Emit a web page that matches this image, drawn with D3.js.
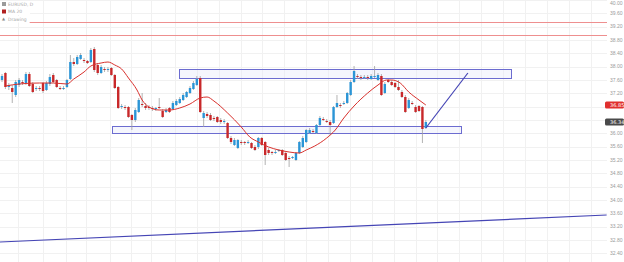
<!DOCTYPE html>
<html>
<head>
<meta charset="utf-8">
<script src="https://cdn.jsdelivr.net/npm/d3@7"></script>
<style>
body { margin: 0; background: #fff; }
svg { display: block; font-family: "DejaVu Sans", sans-serif; }
</style>
</head>
<body>
<svg id="chart" width="624" height="262"></svg>
<script>
// daily candles, oldest first
const opens = [37.60,37.81,37.39,37.36,37.15,37.45,37.54,37.51,37.78,37.48,37.33,37.36,37.51,37.30,37.48,37.75,37.60,37.36,37.33,37.39,
  37.63,38.14,38.08,38.23,38.20,38.17,38.14,38.53,38.05,37.81,37.93,37.90,37.96,37.75,37.39,36.79,36.79,36.79,36.55,36.40,
  36.64,36.88,36.82,36.79,36.76,36.73,36.79,36.67,36.64,36.76,36.73,36.85,36.91,37.00,37.09,37.21,37.33,37.45,37.66,36.46,
  36.58,36.55,36.46,36.49,36.40,36.34,36.31,35.86,35.65,35.56,35.74,35.74,35.71,35.71,35.59,35.59,35.86,35.74,35.50,35.44,
  35.41,35.47,35.50,35.41,35.26,35.26,35.20,35.41,35.59,35.74,36.01,36.07,36.01,36.25,36.43,36.37,36.34,36.31,36.79,36.85,
  36.88,36.91,37.15,37.54,37.72,37.69,37.66,37.69,37.63,37.69,37.60,37.72,37.21,37.60,37.54,37.51,37.39,37.24,37.09,36.76,
  36.91,36.79,36.82,36.79,36.16];
const highs = [37.78,37.84,37.51,37.45,37.60,37.66,37.60,37.84,37.84,37.54,37.42,37.42,37.54,37.57,37.78,37.81,37.63,37.42,37.42,37.63,
  38.35,38.26,38.35,38.41,38.26,38.20,38.56,38.59,38.11,38.05,37.99,37.99,37.99,37.78,37.42,36.88,36.85,36.82,36.58,36.76,
  37.06,37.21,36.91,36.85,36.82,36.79,37.06,36.73,36.76,36.79,36.97,37.03,37.09,37.21,37.27,37.42,37.57,37.72,37.72,36.67,
  36.64,36.61,36.52,36.52,36.46,36.43,36.34,35.92,35.86,35.83,35.80,35.77,35.80,35.74,35.65,35.89,35.89,35.77,35.56,35.47,
  35.50,35.53,35.53,35.44,35.32,35.32,35.44,35.77,35.92,36.13,36.16,36.13,36.28,36.52,36.49,36.43,36.40,36.82,37.15,36.91,
  36.97,37.24,37.60,38.02,37.78,37.75,37.75,37.75,37.78,38.02,37.81,37.78,37.54,37.63,37.60,37.54,37.60,37.30,37.15,37.06,
  36.97,36.85,36.85,36.82,36.40];
const lows = [37.54,37.33,37.30,36.91,37.09,37.39,37.45,37.45,37.39,37.21,37.27,37.27,37.21,37.27,37.42,37.51,37.36,37.30,37.30,37.36,
  37.60,38.02,38.05,38.20,38.11,38.08,38.11,37.84,37.75,37.78,37.84,37.84,37.72,37.33,36.73,36.73,36.70,36.46,36.10,36.34,
  36.61,36.79,36.70,36.70,36.67,36.67,36.73,36.46,36.61,36.61,36.70,36.82,36.88,36.97,37.06,37.18,37.30,37.42,36.61,36.19,
  36.46,36.37,36.37,36.31,36.28,36.28,35.83,35.68,35.62,35.53,35.65,35.65,35.68,35.53,35.47,35.53,35.62,35.05,35.35,35.35,
  35.38,35.44,35.32,35.17,34.99,35.23,35.17,35.38,35.56,35.71,35.98,36.01,35.98,36.22,36.37,36.31,35.95,36.28,36.76,36.76,
  36.85,36.88,37.12,37.51,37.63,37.60,37.63,37.60,37.60,37.66,37.57,37.12,37.18,37.51,37.42,37.36,37.27,37.06,36.61,36.73,
  36.85,36.61,36.64,35.71,36.13];
const closes = [37.72,37.39,37.45,37.24,37.54,37.60,37.51,37.78,37.42,37.24,37.36,37.33,37.27,37.51,37.69,37.54,37.39,37.33,37.36,37.60,
  38.14,38.08,38.29,38.35,38.17,38.11,38.50,37.90,37.81,37.99,37.90,37.93,37.75,37.36,36.76,36.82,36.76,36.49,36.40,36.70,
  37.00,36.85,36.76,36.76,36.73,36.76,36.76,36.49,36.70,36.64,36.91,36.97,37.03,37.15,37.24,37.36,37.51,37.63,36.64,36.61,
  36.52,36.40,36.43,36.34,36.34,36.37,35.86,35.74,35.80,35.80,35.71,35.71,35.74,35.56,35.50,35.86,35.65,35.35,35.41,35.41,
  35.44,35.50,35.35,35.20,35.23,35.29,35.41,35.74,35.86,36.10,36.10,36.04,36.25,36.46,36.40,36.34,36.25,36.79,36.91,36.82,
  36.91,37.21,37.54,37.87,37.69,37.66,37.69,37.66,37.72,37.72,37.75,37.15,37.48,37.54,37.45,37.39,37.30,37.09,36.64,37.00,
  36.88,36.64,36.67,36.13,36.34];

// moving average as drawn (bar position, value)
const maIdx = [1,5,11,15,19,21,24,26,29,31,33,35,37,39.5,41,43,46,49,52,55,58,60,62,66,70,72.5,75,78,81,84,87,89,91.5,95,97.5,100,103,107,110,112.5,114,116.5,119,122,124];
const maVal = [37.42,37.48,37.51,37.51,37.48,37.63,37.84,38.02,38.11,38.14,38.05,37.93,37.66,37.30,37.00,36.79,36.70,36.70,36.76,36.88,37.06,37.09,36.97,36.61,36.19,35.89,35.74,35.59,35.50,35.44,35.41,35.50,35.62,35.86,36.10,36.46,36.82,37.21,37.45,37.60,37.60,37.51,37.24,37.00,36.85];

// price axis
const priceTicks = [40.0,39.6,39.2,38.8,38.4,38.0,37.6,37.2,36.8,36.4,36.0,35.6,35.2,34.8,34.4,34.0,33.6,33.2,32.8,32.4];
const gridIdx = [4.7,12,18.7,24.6,31.5,37.8,43.6,50.6,57,63.4,69.8,76.2,82.6,89,95.4,101.8,108.2,114.6,121,127.4,133.8,140.2,146.6,153,159.4,165.8,172.2];

// drawings
const levelPrices = [39.34, 38.95];
const levelStart = [8, -1];
const zoneStart = [51.75, 32.2];
const zoneEnd = [148.8, 134.2];
const zoneTop = [37.93, 36.22];
const zoneBottom = [37.66, 36.01];
const trendFrom = [[124, 36.16], [-0.6, 32.74]];
const trendTo = [[136.3, 37.81], [176.9, 33.55]];

const legendLabels = ["EURUSD, D", "MA 20", "Drawing"];
const maLast = 36.85;
const lastClose = closes[closes.length - 1];

const W = 624, H = 262, plotRight = 607;
const svg = d3.select("#chart");

const x = d3.scaleLinear().domain([0, 177]).range([2, plotRight]);
const y = d3.scaleLinear().domain([40, 32.14]).range([0, H]);

// grid
svg.append("g").selectAll("line").data(priceTicks).enter().append("line")
  .attr("x1", 0).attr("x2", plotRight)
  .attr("y1", d => Math.round(y(d)) + 0.5).attr("y2", d => Math.round(y(d)) + 0.5)
  .attr("stroke", "#f1f1f1");
svg.append("g").selectAll("line").data(gridIdx).enter().append("line")
  .attr("x1", d => Math.round(x(d)) + 0.5).attr("x2", d => Math.round(x(d)) + 0.5)
  .attr("y1", 0).attr("y2", H)
  .attr("stroke", "#f1f1f1");

// red horizontal levels
svg.append("g").selectAll("line").data(levelPrices).enter().append("line")
  .attr("x1", (d, i) => x(levelStart[i])).attr("x2", plotRight)
  .attr("y1", d => Math.round(y(d)) + 0.5).attr("y2", d => Math.round(y(d)) + 0.5)
  .attr("stroke", "#ee8f8f").attr("stroke-width", 1);

// zones
svg.append("g").selectAll("rect").data(zoneTop).enter().append("rect")
  .attr("x", (d, i) => Math.round(x(zoneStart[i])) + 0.5)
  .attr("y", d => Math.round(y(d)) + 0.5)
  .attr("width", (d, i) => Math.round(x(zoneEnd[i]) - x(zoneStart[i])))
  .attr("height", (d, i) => Math.round(y(zoneBottom[i]) - y(d)))
  .attr("fill", "rgba(225,230,250,0.35)")
  .attr("stroke", "#6c6cd0").attr("stroke-width", 1);

// candles
const idx = d3.range(opens.length);
const bw = 2.4;
const col = i => closes[i] > opens[i] ? "#2b95d6" : closes[i] < opens[i] ? "#c8282a" : "#555";

svg.append("g").selectAll("line").data(idx).enter().append("line")
  .attr("x1", i => x(i)).attr("x2", i => x(i))
  .attr("y1", i => y(highs[i])).attr("y2", i => y(lows[i]))
  .attr("stroke", "#a0a0a0").attr("stroke-width", 0.8);

svg.append("g").selectAll("rect").data(idx).enter().append("rect")
  .attr("x", i => x(i) - bw / 2)
  .attr("y", i => y(Math.max(opens[i], closes[i])))
  .attr("width", bw)
  .attr("height", i => Math.max(1, Math.abs(y(opens[i]) - y(closes[i]))))
  .attr("fill", col);

// moving average
const maLine = d3.line().x(d => x(d[0])).y(d => y(d[1])).curve(d3.curveMonotoneX);
svg.append("path").datum(maIdx.map((d, i) => [d, maVal[i]]))
  .attr("d", maLine).attr("fill", "none")
  .attr("stroke", "#d8302c").attr("stroke-width", 1);

// trend lines
svg.append("g").selectAll("line").data(trendFrom).enter().append("line")
  .attr("x1", d => x(d[0])).attr("y1", d => y(d[1]))
  .attr("x2", (d, i) => x(trendTo[i][0])).attr("y2", (d, i) => y(trendTo[i][1]))
  .attr("stroke", "#4545b5").attr("stroke-width", 1.2);

// price axis (labels hidden under the badges, top one kept inside the frame)
const badges = [[maLast, "#e0302e", "#fff"], [lastClose, "#4a4a4a", "#fff"]];
const shownTicks = priceTicks.filter(t => badges.every(b => Math.abs(y(t) - y(b[0])) > 6));
const yAxis = d3.axisRight(y).tickValues(shownTicks).tickSize(0).tickPadding(0)
  .tickFormat(d => d.toFixed(2));
const ga = svg.append("g").attr("transform", `translate(${plotRight + 3},0)`).call(yAxis);
ga.select(".domain").remove();
ga.selectAll(".tick").attr("transform", d => `translate(0,${Math.max(3.5, y(d))})`);
ga.selectAll("text").attr("fill", "#9a9a9a").style("font-size", "5px");

// price badges
badges.forEach(b => {
  const g = svg.append("g").attr("transform", `translate(${plotRight - 2},${y(b[0])})`);
  g.append("rect").attr("x", 0).attr("y", -3.5).attr("width", W - plotRight + 2).attr("height", 7)
    .attr("rx", 1.5).attr("fill", b[1]);
  g.append("text").attr("x", 5).attr("y", 0).attr("dy", "0.35em")
    .attr("fill", b[2]).style("font-size", "5px").text(b[0].toFixed(2));
});

// legend
const legendColors = ["#9a9a9a", "#b02020", null];
const lg = svg.append("g");
legendLabels.forEach((t, i) => {
  const cy = 4 + i * 7.5;
  lg.append("rect").attr("x", 0).attr("y", cy - 3).attr("width", 30).attr("height", 6.5).attr("fill", "#fff");
  if (legendColors[i]) {
    lg.append("rect").attr("x", 2).attr("y", cy - 2).attr("width", 4).attr("height", 4).attr("fill", legendColors[i]);
  } else {
    lg.append("text").attr("x", 2).attr("y", cy).attr("dy", "0.35em").attr("fill", "#888").style("font-size", "4px").text("\u25B2");
  }
  lg.append("text").attr("x", 8).attr("y", cy).attr("dy", "0.35em")
    .attr("fill", "#a8a8a8").style("font-size", "4.5px").text(t);
});
</script>
</body>
</html>
